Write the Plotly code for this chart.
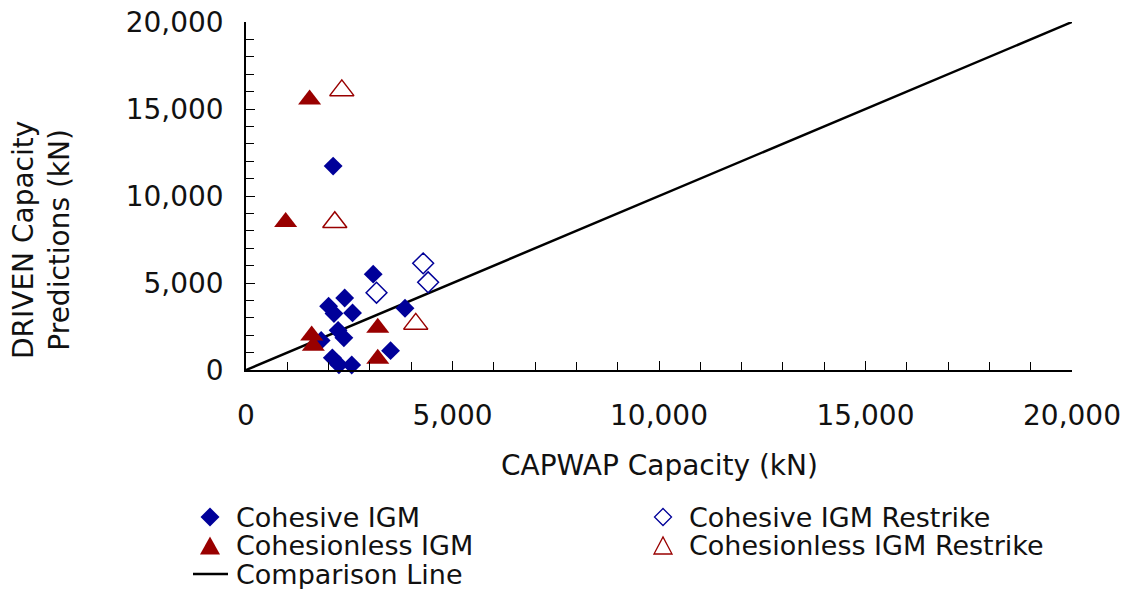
import plotly.graph_objects as go

# ---------------- data ----------------
cohesive_x = [2110, 3080, 2390, 2000, 2130, 2580, 3850, 2230, 2370, 1820, 3500, 2090, 2250, 2560]
cohesive_y = [11720, 5510, 4140, 3670, 3240, 3280, 3550, 2280, 1850, 1700, 1110, 700, 300, 290]

cohesionless_x = [1540, 960, 1590, 1630, 3190, 3190]
cohesionless_y = [15550, 8500, 1980, 1400, 2430, 640]

cohesive_restrike_x = [4290, 4410, 3160]
cohesive_restrike_y = [6130, 5040, 4440]

cohesionless_restrike_x = [2320, 2150, 4110]
cohesionless_restrike_y = [16070, 8490, 2650]

comparison_x = [0, 20000]
comparison_y = [0, 20000]

series_names = ["Cohesive IGM", "Cohesionless IGM", "Comparison Line",
                "Cohesive IGM Restrike", "Cohesionless IGM Restrike"]
axis_titles = ["CAPWAP Capacity (kN)", "DRIVEN Capacity<br>Predictions (kN)"]

BLUE = "#000099"
RED = "#990000"
FONT = "DejaVu Sans, Verdana, sans-serif"

# ---------------- layout geometry ----------------
W, H = 1132, 589
L, R, T, B = 246, 60, 22, 219
PW, PH = W - L - R, H - T - B


def px(xp):
    return (xp - L) / PW


def py(yp):
    return (H - B - yp) / PH


fig = go.Figure()

fig.add_trace(go.Scatter(x=comparison_x, y=comparison_y, mode="lines",
                         line=dict(color="black", width=2.5),
                         name=series_names[2], showlegend=False))
fig.add_trace(go.Scatter(x=cohesive_x, y=cohesive_y, mode="markers",
                         marker=dict(symbol="diamond", size=14.5, color=BLUE,
                                     line=dict(width=0)),
                         name=series_names[0], cliponaxis=False, showlegend=False))
fig.add_trace(go.Scatter(x=cohesionless_x, y=cohesionless_y, mode="markers",
                         marker=dict(symbol="triangle-up", size=20, color=RED,
                                     line=dict(width=0)),
                         name=series_names[1], cliponaxis=False, showlegend=False))
fig.add_trace(go.Scatter(x=cohesive_restrike_x, y=cohesive_restrike_y, mode="markers",
                         marker=dict(symbol="diamond-open", size=16, color=BLUE,
                                     line=dict(width=1.5, color=BLUE)),
                         name=series_names[3], cliponaxis=False, showlegend=False))
fig.add_trace(go.Scatter(x=cohesionless_restrike_x, y=cohesionless_restrike_y, mode="markers",
                         marker=dict(symbol="triangle-up-open", size=21, color=RED,
                                     line=dict(width=1.5, color=RED)),
                         name=series_names[4], cliponaxis=False, showlegend=False))

axis_common = dict(
    range=[0, 20000], dtick=5000, tickformat=",", showgrid=False, zeroline=False,
    showline=True, linecolor="black", linewidth=1.5, automargin=False,
    ticks="inside", ticklen=9, tickwidth=1.2, tickcolor="black",
    minor=dict(dtick=1000, ticks="inside", ticklen=8, tickwidth=1, tickcolor="black"),
    tickfont=dict(family=FONT, size=28, color="#111111"),
    fixedrange=True,
)
fig.update_xaxes(**axis_common, ticklabelstandoff=20)
fig.update_yaxes(**axis_common, ticklabelstandoff=15)

annotations = [
    dict(text=axis_titles[0], x=0.5, y=py(465), xref="paper", yref="paper",
         xanchor="center", yanchor="middle", showarrow=False,
         font=dict(family=FONT, size=28, color="#111111")),
    dict(text=axis_titles[1], x=px(42), y=py(240), xref="paper", yref="paper",
         xanchor="center", yanchor="middle", showarrow=False, textangle=-90,
         font=dict(family=FONT, size=28, color="#111111")),
]

# ---------------- manual legend ----------------
shapes = []


def diamond(cx, cy, r, fill, line_w):
    path = (f"M {px(cx + r)},{py(cy)} L {px(cx)},{py(cy - r)} "
            f"L {px(cx - r)},{py(cy)} L {px(cx)},{py(cy + r)} Z")
    return dict(type="path", xref="paper", yref="paper", path=path,
                fillcolor=fill if fill else "rgba(0,0,0,0)",
                line=dict(color=BLUE, width=line_w))


def triangle(cx, cy, w, h, fill, line_w):
    path = (f"M {px(cx - w / 2)},{py(cy + h / 2)} L {px(cx + w / 2)},{py(cy + h / 2)} "
            f"L {px(cx)},{py(cy - h / 2)} Z")
    return dict(type="path", xref="paper", yref="paper", path=path,
                fillcolor=fill if fill else "rgba(0,0,0,0)",
                line=dict(color=RED, width=line_w))


rows = [517, 545.5, 574]
col_marker = [210, 663]
col_text = [234, 687]

shapes.append(diamond(col_marker[0], rows[0], 9.5, BLUE, 0))
shapes.append(triangle(col_marker[0], rows[1], 20, 18, RED, 0))
shapes.append(dict(type="line", xref="paper", yref="paper",
                   x0=px(193), x1=px(228), y0=py(rows[2]), y1=py(rows[2]),
                   line=dict(color="black", width=2.5)))
shapes.append(diamond(col_marker[1], rows[0], 8.5, None, 1.3))
shapes.append(triangle(col_marker[1], rows[1], 18, 17, None, 1.3))

legend_pos = [(0, 0), (0, 1), (0, 2), (1, 0), (1, 1)]
for name, (c, r) in zip(series_names, legend_pos):
    annotations.append(dict(text=name, x=px(col_text[c]), y=py(rows[r]),
                            xref="paper", yref="paper", xanchor="left",
                            yanchor="middle", showarrow=False,
                            font=dict(family=FONT, size=27, color="#111111")))

fig.update_layout(
    width=W, height=H,
    margin=dict(l=L, r=R, t=T, b=B, pad=0, autoexpand=False),
    paper_bgcolor="white", plot_bgcolor="white",
    showlegend=False,
    annotations=annotations, shapes=shapes,
)

fig.write_html("out.html", config={"displayModeBar": False})
